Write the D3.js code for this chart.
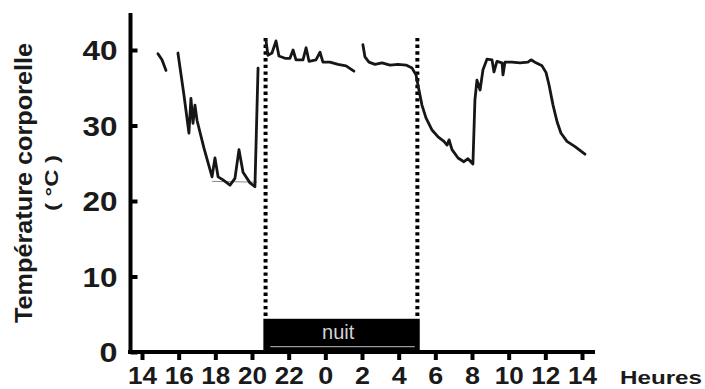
<!DOCTYPE html>
<html>
<head>
<meta charset="utf-8">
<script src="https://cdn.jsdelivr.net/npm/d3@7"></script>
<style>
  body { margin: 0; background: #fff; }
  svg { display: block; }
  text { font-family: "Liberation Sans", Arial, sans-serif; fill: #1a1a1a; }
</style>
</head>
<body>
<div id="chart"></div>
<script>
// Ticks (heures sur une échelle continue 14 -> 38, affichées modulo 24)
const xTicks = [14, 16, 18, 20, 22, 24, 26, 28, 30, 32, 34, 36, 38];
const yTicks = [0, 10, 20, 30, 40];

// Température corporelle, segment par segment (heure, °C)
const seg1Heure = [14.87, 15.09, 15.31];
const seg1Temp = [39.5, 38.7, 37.3];

const seg2Heure = [15.96, 16.29, 16.56, 16.67, 16.78, 16.89, 17.0, 17.38, 17.82, 17.98, 18.15, 18.42, 18.8, 19.07, 19.29, 19.51, 19.89, 20.16, 20.33];
const seg2Temp = [39.6, 34.0, 29.0, 33.6, 30.3, 32.7, 30.7, 27.0, 23.2, 25.7, 23.2, 22.8, 22.1, 23.0, 26.8, 23.8, 22.4, 21.9, 37.6];

const seg3Heure = [20.76, 20.87, 21.09, 21.31, 21.47, 21.8, 22.07, 22.24, 22.4, 22.78, 22.95, 23.11, 23.49, 23.71, 23.87, 24.25, 24.69, 25.13, 25.56];
const seg3Temp = [41.3, 39.3, 39.6, 41.2, 39.2, 38.9, 38.9, 40.0, 38.7, 38.7, 40.3, 38.5, 38.7, 39.7, 38.4, 38.4, 38.1, 37.9, 37.2];

const seg4Heure = [26.05, 26.16, 26.38, 26.71, 27.09, 27.53, 27.96, 28.4, 28.73, 28.95, 29.05, 29.27, 29.49, 29.82, 30.15, 30.47, 30.64, 30.75, 30.91, 31.24, 31.56, 31.78, 32.05, 32.16, 32.27, 32.44, 32.6, 32.82, 33.09, 33.2, 33.36, 33.64, 33.69, 33.8, 34.18, 34.62, 35.05, 35.22, 35.49, 35.82, 36.04, 36.2, 36.42, 36.64, 36.85, 37.18, 37.62, 38.16];
const seg4Temp = [40.7, 39.1, 38.4, 38.1, 38.3, 38.0, 38.1, 38.0, 37.6, 36.7, 35.4, 32.7, 31.0, 29.4, 28.5, 27.9, 27.4, 28.1, 26.8, 25.7, 25.2, 25.6, 24.9, 33.4, 36.0, 34.7, 37.4, 38.8, 38.7, 37.1, 38.5, 38.3, 36.7, 38.4, 38.4, 38.3, 38.4, 38.7, 38.3, 37.9, 37.0, 35.4, 32.7, 30.5, 29.0, 27.9, 27.2, 26.2];

// Trace minimale (fine, grise)
const minHeure = [17.82, 20.27];
const minTemp = [22.6, 22.5];

// Nuit
const coucher = 20.74;
const lever = 29.02;
const nuitDebut = 20.62;
const nuitFin = 29.15;
const nuitHaut = 4.4;
const pointilleHaut = 41.6;

// Chart dimensions
const W = 705, H = 389;
const axisX = 130.5, axisY = 352;

const svg = d3.select("#chart")
  .append("svg")
  .attr("width", W)
  .attr("height", H);

const x = d3.scaleLinear().domain([14, 38]).range([142, 582]);
const y = d3.scaleLinear().domain([0, 40]).range([352, 50]);

// Nuit bar
svg.append("rect")
  .attr("x", x(nuitDebut))
  .attr("y", y(nuitHaut))
  .attr("width", x(nuitFin) - x(nuitDebut))
  .attr("height", y(0) - y(nuitHaut))
  .attr("fill", "#000");

svg.append("line")
  .attr("x1", x(nuitDebut) + 7)
  .attr("x2", x(nuitFin) - 5)
  .attr("y1", y(0.7))
  .attr("y2", y(0.7))
  .attr("stroke", "#9a9a9a")
  .attr("stroke-width", 1.2);

svg.append("text")
  .attr("x", x(24.7))
  .attr("y", 339)
  .attr("text-anchor", "middle")
  .attr("font-size", 20)
  .style("fill", "#d4d4d4")
  .text("nuit");

// Dotted lines
svg.selectAll(".pointille")
  .data([coucher, lever])
  .enter()
  .append("line")
  .attr("class", "pointille")
  .attr("x1", d => x(d))
  .attr("x2", d => x(d))
  .attr("y1", y(pointilleHaut))
  .attr("y2", y(nuitHaut))
  .attr("stroke", "#000")
  .attr("stroke-width", 4)
  .attr("stroke-dasharray", "3.4 3.3");

// Curves
const line = d3.line()
  .x(d => x(d[0]))
  .y(d => y(d[1]));

const segments = [
  [seg1Heure, seg1Temp],
  [seg2Heure, seg2Temp],
  [seg3Heure, seg3Temp],
  [seg4Heure, seg4Temp]
].map(([h, t]) => h.map((v, i) => [v, t[i]]));

svg.append("path")
  .datum(minHeure.map((v, i) => [v, minTemp[i]]))
  .attr("d", line)
  .attr("fill", "none")
  .attr("stroke", "#888")
  .attr("stroke-width", 1);

svg.selectAll(".courbe")
  .data(segments)
  .enter()
  .append("path")
  .attr("class", "courbe")
  .attr("d", line)
  .attr("fill", "none")
  .attr("stroke", "#161616")
  .attr("stroke-width", 2.8)
  .attr("stroke-linejoin", "round")
  .attr("stroke-linecap", "round");

// X axis
const gx = svg.append("g")
  .attr("transform", `translate(0,${axisY})`)
  .call(d3.axisBottom(x)
    .tickValues(xTicks)
    .tickSize(8)
    .tickSizeOuter(0)
    .tickFormat(d => d % 24));

gx.select(".domain").remove();
gx.selectAll(".tick line").attr("stroke", "#000").attr("stroke-width", 4);
gx.selectAll(".tick text")
  .attr("y", 32)
  .attr("dy", null)
  .attr("font-size", 23)
  .attr("font-weight", "bold")
  .attr("textLength", d => (d % 24) >= 10 ? 29 : 15)
  .attr("lengthAdjust", "spacingAndGlyphs")
  .style("fill", "#1a1a1a");

// Y axis
const gy = svg.append("g")
  .attr("transform", `translate(${axisX},0)`)
  .call(d3.axisLeft(y)
    .tickValues(yTicks)
    .tickSize(-7)
    .tickSizeOuter(0)
    .tickPadding(13));

gy.select(".domain").remove();
gy.selectAll(".tick line").attr("stroke", "#000").attr("stroke-width", 4);
gy.selectAll(".tick text")
  .attr("dy", null)
  .attr("y", 9.5)
  .attr("font-size", 27)
  .attr("font-weight", "bold")
  .attr("textLength", d => d >= 10 ? 35 : 18)
  .attr("lengthAdjust", "spacingAndGlyphs")
  .style("fill", "#1a1a1a");

// Axis lines
svg.append("line")
  .attr("x1", axisX - 2.5).attr("x2", 595)
  .attr("y1", axisY).attr("y2", axisY)
  .attr("stroke", "#000").attr("stroke-width", 4);

svg.append("line")
  .attr("x1", axisX).attr("x2", axisX)
  .attr("y1", 13).attr("y2", axisY + 2)
  .attr("stroke", "#000").attr("stroke-width", 4);

// Labels
svg.append("text")
  .attr("x", 620)
  .attr("y", 384)
  .attr("font-size", 18)
  .attr("font-weight", "bold")
  .attr("textLength", 82)
  .attr("lengthAdjust", "spacingAndGlyphs")
  .text("Heures");

svg.append("text")
  .attr("transform", "translate(32,183) rotate(-90)")
  .attr("text-anchor", "middle")
  .attr("font-size", 23)
  .attr("font-weight", "bold")
  .attr("textLength", 280)
  .attr("lengthAdjust", "spacingAndGlyphs")
  .text("Température corporelle");

svg.append("text")
  .attr("transform", "translate(58,183) rotate(-90)")
  .attr("text-anchor", "middle")
  .attr("font-size", 19)
  .attr("font-weight", "bold")
  .attr("textLength", 56)
  .attr("lengthAdjust", "spacingAndGlyphs")
  .text("( °C )");
</script>
</body>
</html>
